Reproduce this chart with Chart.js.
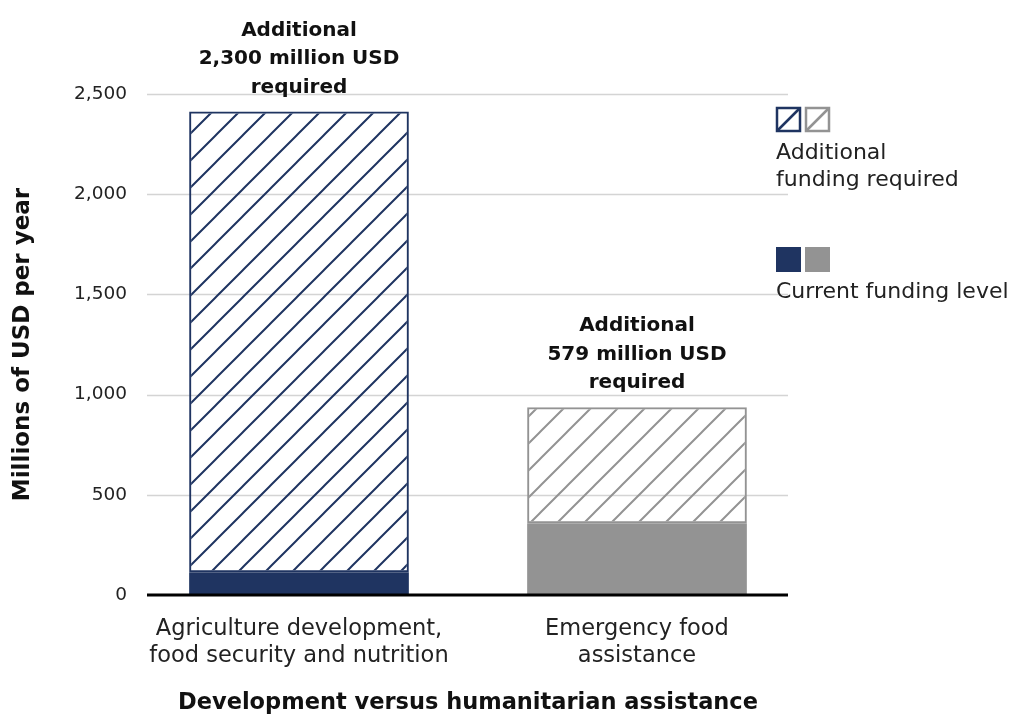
<!DOCTYPE html>
<html>
<head>
<meta charset="utf-8">
<script src="https://cdn.jsdelivr.net/npm/chart.js@4/dist/chart.umd.min.js"></script>
<style>
  html, body { margin: 0; background: #fff; }
</style>
</head>
<body>
<canvas id="funding" width="1018" height="720"></canvas>
<script>
// funding gap, millions of USD per year
const categories = [
  ["Agriculture development,", "food security and nutrition"],
  ["Emergency food", "assistance"],
];
const currentFunding = [113, 358];
const additionalFunding = [2300, 579];
const gapLabels = [
  ["Additional", "2,300 million USD", "required"],
  ["Additional", "579 million USD", "required"],
];
const yTicks = [0, 500, 1000, 1500, 2000, 2500];

const NAVY = "#1f3461";
const GREY = "#939393";
const FONT = "DejaVu Sans";

// diagonal "/" hatch, transparent between the strokes
function hatch(color) {
  const s = 27;
  const c = document.createElement("canvas");
  c.width = s;
  c.height = s;
  const g = c.getContext("2d");
  g.strokeStyle = color;
  g.lineWidth = 2;
  g.beginPath();
  g.moveTo(-2, s + 2);
  g.lineTo(s + 2, -2);
  g.moveTo(-2, 2);
  g.lineTo(2, -2);
  g.moveTo(s - 2, s + 2);
  g.lineTo(s + 2, s - 2);
  g.stroke();
  return g.createPattern(c, "repeat");
}

// short gridlines + thick baseline, inset from the category band
const gridLines = {
  id: "gridLines",
  beforeDatasetsDraw(chart) {
    const { ctx, chartArea } = chart;
    const y = chart.scales.y;
    const x0 = chartArea.left + 17;
    const x1 = chartArea.right - 18;
    ctx.save();
    ctx.strokeStyle = "#d4d4d4";
    ctx.lineWidth = 1.5;
    yTicks.forEach((v) => {
      if (v === 0) return;
      const py = Math.round(y.getPixelForValue(v)) + 0.5;
      ctx.beginPath();
      ctx.moveTo(x0, py);
      ctx.lineTo(x1, py);
      ctx.stroke();
    });
    ctx.restore();
  },
  afterDatasetsDraw(chart) {
    const { ctx, chartArea } = chart;
    const py = chart.scales.y.getPixelForValue(0);
    ctx.save();
    ctx.strokeStyle = "#000";
    ctx.lineWidth = 3;
    ctx.beginPath();
    ctx.moveTo(chartArea.left + 17, py);
    ctx.lineTo(chartArea.right - 18, py);
    ctx.stroke();
    ctx.restore();
  },
};

// "Additional ... required" text over each bar
const gapText = {
  id: "gapText",
  afterDatasetsDraw(chart) {
    const { ctx } = chart;
    const y = chart.scales.y;
    const meta = chart.getDatasetMeta(1);
    ctx.save();
    ctx.fillStyle = "#111";
    ctx.font = "bold 20px '" + FONT + "'";
    ctx.textAlign = "center";
    ctx.textBaseline = "middle";
    gapLabels.forEach((lines, i) => {
      const top = y.getPixelForValue(currentFunding[i] + additionalFunding[i]);
      const x = meta.data[i].x;
      lines.forEach((t, k) => {
        ctx.fillText(t, x, top - 24 - (lines.length - 1 - k) * 28.5);
      });
    });
    ctx.restore();
  },
};

// key on the right: hatched pair, solid pair
const sideKey = {
  id: "sideKey",
  afterDraw(chart) {
    const { ctx } = chart;
    const x = 777;
    const sz = 23;
    ctx.save();
    [NAVY, GREY].forEach((col, i) => {
      const bx = x + i * 29;
      ctx.strokeStyle = col;
      ctx.lineWidth = 2.5;
      ctx.strokeRect(bx, 108, sz, sz);
      ctx.beginPath();
      ctx.moveTo(bx, 108 + sz);
      ctx.lineTo(bx + sz, 108);
      ctx.stroke();
      ctx.fillStyle = col;
      ctx.fillRect(bx - 1, 247, sz + 2, sz + 2);
    });
    ctx.fillStyle = "#222";
    ctx.font = "22px '" + FONT + "'";
    ctx.textAlign = "left";
    ctx.textBaseline = "middle";
    ctx.fillText("Additional", x - 1, 153);
    ctx.fillText("funding required", x - 1, 180);
    ctx.fillText("Current funding level", x - 1, 292);
    ctx.restore();
  },
};

new Chart(document.getElementById("funding"), {
  type: "bar",
  data: {
    labels: categories,
    datasets: [
      {
        label: "Current funding level",
        data: currentFunding,
        backgroundColor: [NAVY, GREY],
        borderWidth: 0,
      },
      {
        label: "Additional funding required",
        data: additionalFunding,
        backgroundColor: [hatch(NAVY), hatch(GREY)],
        borderColor: [NAVY, GREY],
        borderWidth: 2,
        borderSkipped: false,
      },
    ],
  },
  options: {
    responsive: false,
    animation: false,
    devicePixelRatio: 1,
    layout: { padding: { top: 94, right: 212, bottom: 3, left: 0 } },
    datasets: { bar: { barPercentage: 0.65, categoryPercentage: 1 } },
    plugins: { legend: { display: false }, tooltip: { enabled: false } },
    scales: {
      x: {
        stacked: true,
        afterFit(scale) {
          scale.height = 122;
        },
        grid: { display: false, drawTicks: false },
        border: { display: false },
        ticks: {
          color: "#222",
          padding: 21,
          font: { family: FONT, size: 22.5, lineHeight: 1.2 },
        },
        title: {
          display: true,
          text: "Development versus humanitarian assistance",
          color: "#111",
          font: { family: FONT, size: 22.5, weight: "bold" },
          padding: { top: 0, bottom: 0 },
        },
      },
      y: {
        stacked: true,
        min: 0,
        max: 2500,
        afterFit(scale) {
          scale.width = 130;
        },
        afterBuildTicks(scale) {
          scale.ticks = yTicks.map((v) => ({ value: v }));
        },
        grid: { display: false, drawTicks: false },
        border: { display: false },
        ticks: {
          color: "#222",
          padding: 3,
          font: { family: FONT, size: 18.5 },
        },
        title: {
          display: true,
          text: "Millions of USD per year",
          color: "#111",
          font: { family: FONT, size: 23, weight: "bold" },
          padding: { top: 9, bottom: 0 },
        },
      },
    },
  },
  plugins: [gridLines, gapText, sideKey],
});
</script>
</body>
</html>
